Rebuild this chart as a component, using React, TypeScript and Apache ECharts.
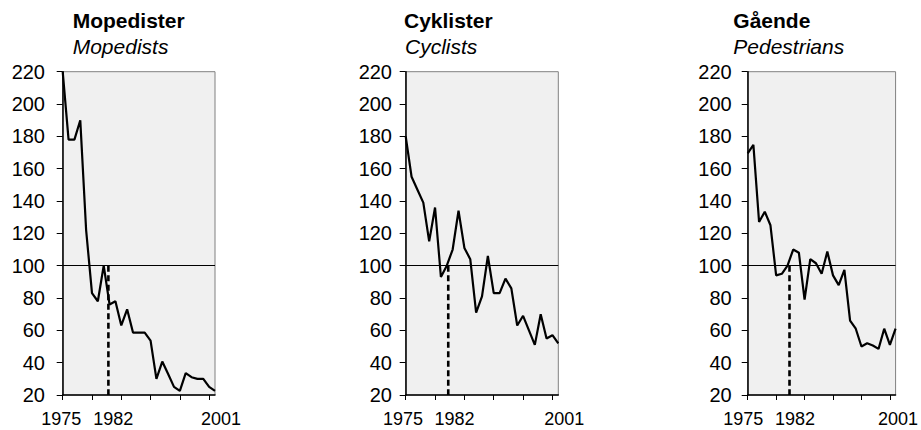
import { useEffect, useRef } from "react";
import * as echarts from "echarts";

const years = [
  1975, 1976, 1977, 1978, 1979, 1980, 1981, 1982, 1983, 1984, 1985, 1986, 1987, 1988,
  1989, 1990, 1991, 1992, 1993, 1994, 1995, 1996, 1997, 1998, 1999, 2000, 2001,
];
const mopedists = [
  220, 178, 178, 190, 122, 83, 78, 100, 76, 78, 63, 73, 58.6, 58.6, 58.6, 53.6, 30, 40.7,
  33, 25, 22.5, 33.5, 31, 30, 30, 25, 22.5,
];
const cyclists = [
  180, 155, 147, 139, 115, 136, 93, 100, 110, 134, 111, 104, 71, 81, 106, 83, 83, 92, 86,
  63, 69, 60, 51, 70, 55, 57, 52,
];
const pedestrians = [
  169.5, 174.7, 127, 133.4, 125, 94, 95, 100, 110, 108, 79, 104, 101.5, 95, 108.7, 94, 88,
  97.4, 66, 61, 50, 52, 50.6, 48.5, 61, 51, 61,
];
const titlesDa = ["Mopedister", "Cyklister", "Gående"];
const titlesEn = ["Mopedists", "Cyclists", "Pedestrians"];
const yMin = 20;
const yMax = 220;
const yStep = 20;
const xTickYears = [1975, 1980, 1985, 1990, 1995, 2000];
const xLabelYears = [1975, 1982, 2001];
const indexBase = 100;
const dashedAt = [1982.8, 1982.25, 1982.35];

const seriesValues = [mopedists, cyclists, pedestrians];

const FONT = "'Liberation Sans', Arial, Helvetica, sans-serif";
const GRID_TOP = 71.7;
const GRID_H = 323.3;

const panels = [
  { left: 62.7, width: 152.3, labelMargin: 17.7, titleX: 72.7, shifts: [-1.5, 9.5, 6] },
  { left: 405.7, width: 152.6, labelMargin: 13.7, titleX: 404, shifts: [-2.7, 7.7, 6] },
  { left: 747.7, width: 149.6, labelMargin: 16, titleX: 733.3, shifts: [-4.4, 7.5, 2.4] },
];

function pad(s: number) {
  return s >= 0 ? [0, 0, 0, 2 * s] : [0, -2 * s, 0, 0];
}

export default function App() {
  const ref = useRef<HTMLDivElement>(null);

  useEffect(() => {
    document.body.style.margin = "0";
    if (!ref.current) return;
    const chart = echarts.init(ref.current, null, { renderer: "svg" });

    const grid = panels.map((p) => ({
      left: p.left,
      top: GRID_TOP,
      width: p.width,
      height: GRID_H,
      show: true,
      backgroundColor: "#f0f0f0",
      borderColor: "#808080",
      borderWidth: 1,
    }));

    const xAxis = panels.map((p, i) => {
      const rich: Record<string, any> = {};
      p.shifts.forEach((s, k) => {
        rich["s" + k] = {
          fontSize: 18,
          fontFamily: FONT,
          color: "#000",
          padding: pad(s),
        };
      });
      return {
        type: "value",
        gridIndex: i,
        min: years[0],
        max: years[years.length - 1],
        splitLine: { show: false },
        axisLine: { show: true, onZero: false, lineStyle: { color: "#000", width: 1.5 } },
        axisTick: {
          show: true,
          length: 5,
          customValues: xTickYears,
          lineStyle: { color: "#000", width: 1 },
        },
        axisLabel: {
          show: true,
          customValues: xLabelYears,
          margin: 14.5,
          fontSize: 18,
          fontFamily: FONT,
          color: "#000",
          formatter: (v: number) => {
            const k = xLabelYears.indexOf(v);
            return `{s${k}|${v}}`;
          },
          rich,
        },
      };
    });

    const yAxis = panels.map((p, i) => ({
      type: "value",
      gridIndex: i,
      min: yMin,
      max: yMax,
      interval: yStep,
      splitLine: { show: false },
      axisLine: { show: true, onZero: false, lineStyle: { color: "#000", width: 1.5 } },
      axisTick: { show: true, length: 6, lineStyle: { color: "#000", width: 1 } },
      axisLabel: {
        margin: p.labelMargin,
        fontSize: 20,
        fontFamily: FONT,
        color: "#000",
      },
    }));

    const series: any[] = [];
    seriesValues.forEach((vals, i) => {
      series.push({
        type: "line",
        xAxisIndex: i,
        yAxisIndex: i,
        data: years.map((y, k) => [y, vals[k]]),
        symbol: "none",
        showSymbol: false,
        lineStyle: { color: "#000", width: 2.2 },
        z: 4,
        markLine: {
          silent: true,
          symbol: ["none", "none"],
          label: { show: false },
          lineStyle: { color: "#000", width: 1, type: "solid" },
          data: [{ yAxis: indexBase }],
          z: 3,
        },
      });
      series.push({
        type: "line",
        xAxisIndex: i,
        yAxisIndex: i,
        data: [
          [dashedAt[i], indexBase],
          [dashedAt[i], yMin],
        ],
        symbol: "none",
        showSymbol: false,
        lineStyle: { color: "#000", width: 2.6, type: [6, 3.5] },
        z: 3,
      });
    });

    const graphic: any[] = [];
    panels.forEach((p, i) => {
      graphic.push({
        type: "text",
        x: p.titleX,
        y: 20.7,
        style: {
          text: titlesDa[i],
          font: `bold 21px ${FONT}`,
          fill: "#000",
          textAlign: "left",
          textVerticalAlign: "middle",
        },
      });
      graphic.push({
        type: "text",
        x: p.titleX + (i === 1 ? 1 : 0),
        y: 46,
        style: {
          text: titlesEn[i],
          font: `italic 21px ${FONT}`,
          fill: "#000",
          textAlign: "left",
          textVerticalAlign: "middle",
        },
      });
    });

    chart.setOption({
      animation: false,
      backgroundColor: "#ffffff",
      grid,
      xAxis,
      yAxis,
      series,
      graphic,
    });

    return () => {
      chart.dispose();
    };
  }, []);

  return <div ref={ref} style={{ width: 921, height: 430 }} />;
}
